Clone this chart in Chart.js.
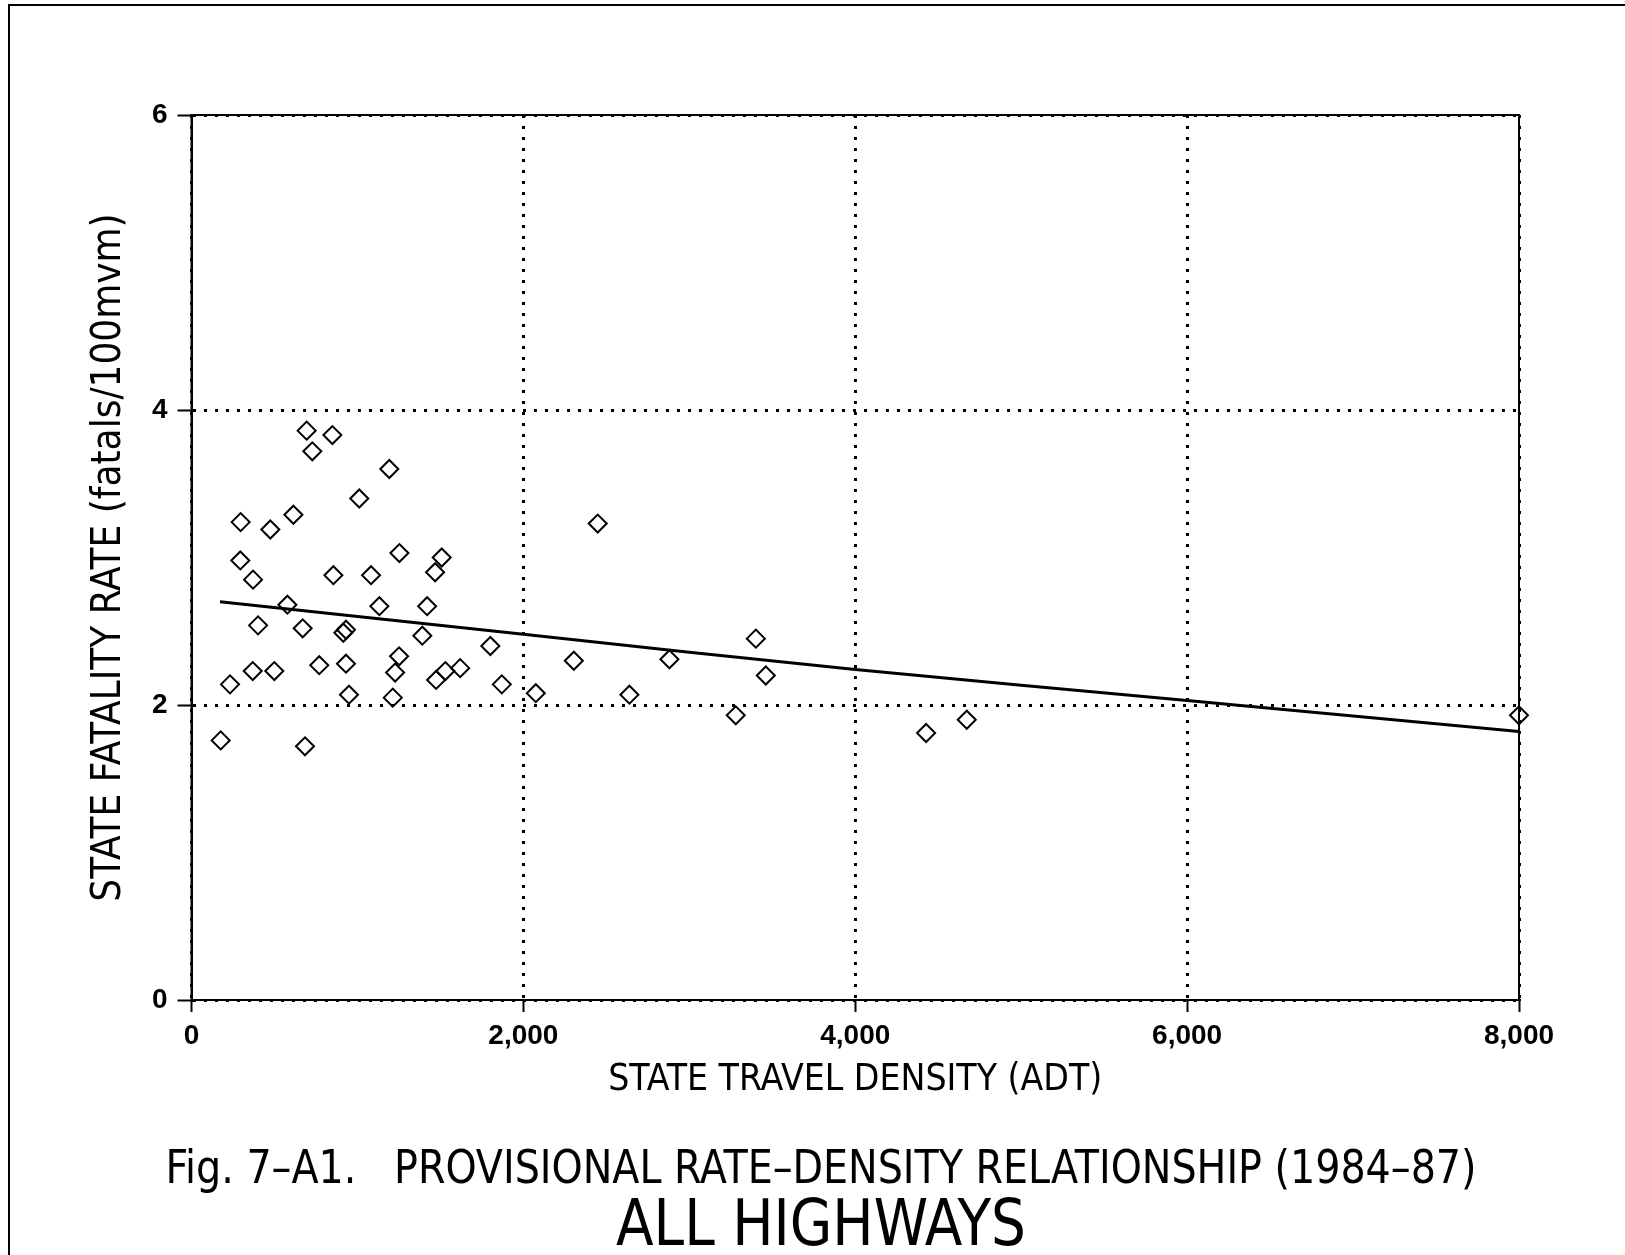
<!DOCTYPE html>
<html>
<head>
<meta charset="utf-8">
<title>Fig. 7-A1 Provisional Rate-Density Relationship</title>
<script src="https://cdn.jsdelivr.net/npm/chart.js@4.4.1/dist/chart.umd.min.js"></script>
<style>
  html, body { margin: 0; padding: 0; background: #fff; }
  #wrap { width: 1625px; height: 1255px; }
</style>
</head>
<body>
<div id="wrap"><canvas id="rateChart"></canvas></div>
<script>
// one point per state: travel density (ADT) and fatality rate (fatals/100mvm)
const density = [694, 849, 728, 1192, 1011, 296, 475, 614, 1253, 1508,
                 1468, 294, 371, 855, 1082, 578, 1132, 1420, 401, 670,
                 915, 931, 1391, 1801, 2304, 1251, 232, 369, 499, 770,
                 931, 1227, 1474, 1530, 1619, 1870, 2075, 949, 1213, 176,
                 684, 2448, 2880, 2639, 3401, 3461, 3280, 4427, 4672, 8000];
const fatalRate = [3.86, 3.83, 3.72, 3.60, 3.40, 3.24, 3.19, 3.29, 3.03, 3.00,
                   2.90, 2.98, 2.85, 2.88, 2.88, 2.68, 2.67, 2.67, 2.54, 2.52,
                   2.49, 2.51, 2.47, 2.40, 2.30, 2.33, 2.14, 2.23, 2.23, 2.27,
                   2.28, 2.22, 2.17, 2.23, 2.25, 2.14, 2.08, 2.07, 2.05, 1.76,
                   1.72, 3.23, 2.31, 2.07, 2.45, 2.20, 1.93, 1.81, 1.90, 1.93];

// fitted rate-density curve (it bends slightly)
const fitDensity = [172, 2000, 4000, 6000, 8000];
const fitRate = [2.70, 2.48, 2.24, 2.03, 1.82];

const xTicks = [0, 2000, 4000, 6000, 8000];
const xTickLabels = ['0', '2,000', '4,000', '6,000', '8,000'];
const yTicks = [0, 2, 4, 6];
const yTickLabels = ['0', '2', '4', '6'];

const figTitle = 'Fig. 7\u2013A1.   PROVISIONAL RATE\u2013DENSITY RELATIONSHIP (1984\u201387)';
const figSubtitle = 'ALL HIGHWAYS';

const NARROW = "'Liberation Sans Narrow', 'DejaVu Sans Condensed', 'DejaVu Sans', sans-serif";
const BOLD = "'Liberation Sans', Arial, sans-serif";

function toPoints(xs, ys) {
    return xs.map(function (x, i) { return { x: x, y: ys[i] }; });
}

// caption font is a condensed plotter face: squeeze the text to its width
function fitText(ctx, text, cx, cy, size, width) {
    ctx.font = size + 'px ' + NARROW;
    const w = ctx.measureText(text).width;
    ctx.save();
    ctx.translate(cx, cy);
    ctx.scale(Math.min(1, width / w), 1);
    ctx.fillText(text, 0, 0);
    ctx.restore();
}

// plot frame, page border and the figure caption
const paperFrame = {
    id: 'paperFrame',
    afterDraw(chart) {
        const ctx = chart.ctx;
        const a = chart.chartArea;
        ctx.save();
        ctx.strokeStyle = '#000';
        ctx.lineWidth = 2;
        ctx.strokeRect(a.left, a.top, a.right - a.left, a.bottom - a.top);

        ctx.beginPath();
        ctx.moveTo(9, 1255);
        ctx.lineTo(9, 5);
        ctx.lineTo(1625, 5);
        ctx.stroke();

        ctx.fillStyle = '#000';
        ctx.textAlign = 'center';
        ctx.textBaseline = 'middle';
        fitText(ctx, figTitle, 821, 1171, 47, 1311);
        fitText(ctx, figSubtitle, 821, 1228, 64, 410);
        ctx.restore();
    }
};

const ctx = document.getElementById('rateChart').getContext('2d');
new Chart(ctx, {
    type: 'scatter',
    data: {
        datasets: [{
            label: 'States',
            data: toPoints(density, fatalRate),
            pointStyle: 'rectRot',
            pointRadius: 9,
            pointHoverRadius: 9,
            pointBorderWidth: 2,
            pointBorderColor: '#000',
            pointBackgroundColor: 'rgba(0,0,0,0)',
            clip: false
        }, {
            label: 'Fit',
            data: toPoints(fitDensity, fitRate),
            showLine: true,
            borderColor: '#000',
            borderWidth: 3,
            pointRadius: 0,
            tension: 0.3,
            fill: false
        }]
    },
    options: {
        responsive: true,
        maintainAspectRatio: false,
        animation: false,
        devicePixelRatio: 1,
        layout: {
            padding: { left: 0, top: 115, right: 106, bottom: 135 }
        },
        plugins: {
            legend: { display: false },
            tooltip: { enabled: false }
        },
        scales: {
            x: {
                type: 'linear',
                min: 0,
                max: 8000,
                afterBuildTicks: function (s) { s.ticks = xTicks.map(function (v) { return { value: v }; }); },
                afterFit: function (s) { s.height = 120; },
                ticks: {
                    color: '#000',
                    padding: 7,
                    maxRotation: 0,
                    font: { family: BOLD, size: 28, weight: 'bold' },
                    callback: function (v, i) { return xTickLabels[i]; }
                },
                grid: {
                    color: '#000',
                    lineWidth: 3,
                    tickColor: '#000',
                    tickWidth: 2,
                    tickLength: 12
                },
                border: { display: true, color: '#000', width: 2, dash: [3, 8] },
                title: {
                    display: true,
                    text: 'STATE TRAVEL DENSITY (ADT)',
                    color: '#000',
                    font: { family: NARROW, size: 37 },
                    padding: { top: 0, bottom: 17 }
                }
            },
            y: {
                type: 'linear',
                min: 0,
                max: 6,
                afterBuildTicks: function (s) { s.ticks = yTicks.map(function (v) { return { value: v }; }); },
                afterFit: function (s) { s.width = 191.5; },
                ticks: {
                    color: '#000',
                    padding: 10,
                    font: { family: BOLD, size: 28, weight: 'bold' },
                    callback: function (v, i) { return yTickLabels[i]; }
                },
                grid: {
                    color: '#000',
                    lineWidth: 3,
                    tickColor: '#000',
                    tickWidth: 2,
                    tickLength: 14
                },
                border: { display: true, color: '#000', width: 2, dash: [3, 8] },
                title: {
                    display: true,
                    text: 'STATE FATALITY RATE (fatals/100mvm)',
                    color: '#000',
                    font: { family: NARROW, size: 40 },
                    padding: { top: 86, bottom: 0 }
                }
            }
        }
    },
    plugins: [paperFrame]
});
</script>
</body>
</html>
